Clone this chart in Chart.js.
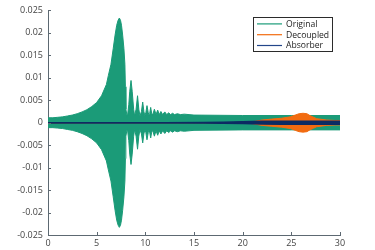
<!DOCTYPE html>
<html><head><meta charset="utf-8">
<script src="https://cdn.jsdelivr.net/npm/chart.js@4.4.1/dist/chart.umd.min.js"></script>
<style>html,body{margin:0;padding:0;background:#fff}canvas{display:block}</style>
</head><body><canvas id="c" width="375" height="250"></canvas>
<script>
const xTicks = [0, 5, 10, 15, 20, 25, 30];
const yTicks = [-0.025, -0.02, -0.015, -0.01, -0.005, 0, 0.005, 0.01, 0.015, 0.02, 0.025];
const seriesNames = ['Original', 'Decoupled', 'Absorber'];
const seriesColors = ['#1b9b78', '#f26b10', '#0c2b63'];

// Original: envelope of the dense oscillation
const origX = [0,0.5,1,1.5,2,2.5,3,3.5,4,4.5,5,5.5,6,6.2,6.47,6.7,6.89,7.06,7.2,7.33,7.45,7.55,7.67,7.8,7.9,7.95,8,8.15,8.3,8.4,8.53,8.65,8.8,8.9,9.05,9.2,9.33,9.45,9.6,9.73,9.85,9.95,10.05,10.17,10.3,10.38,10.45,10.55,10.65,10.75,10.93,11.1,11.27,11.43,11.6,11.78,12,12.2,12.4,12.6,12.8,13,13.3,13.6,14,15,20,25,30];
const origUpper = [0.0011,0.0011,0.0012,0.0013,0.0015,0.0017,0.002,0.0024,0.0029,0.0036,0.0045,0.006,0.0085,0.0105,0.013,0.0165,0.0195,0.0217,0.0228,0.0233,0.0228,0.0217,0.0195,0.0165,0.013,0.008,0.003,0.0012,0.004,0.007,0.0094,0.007,0.003,0.0015,0.003,0.006,0.003,0.0015,0.0025,0.0046,0.0025,0.0016,0.0022,0.0038,0.0022,0.0017,0.0021,0.0034,0.0021,0.0017,0.003,0.0018,0.0028,0.0018,0.0025,0.0018,0.0024,0.0018,0.0022,0.0018,0.0021,0.0018,0.002,0.0018,0.0019,0.0017,0.0016,0.0016,0.0016];
const origLower = [-0.0011,-0.0011,-0.0012,-0.0013,-0.0015,-0.0017,-0.002,-0.0024,-0.0029,-0.0036,-0.0045,-0.006,-0.0085,-0.0105,-0.013,-0.0165,-0.0195,-0.0217,-0.0228,-0.0233,-0.0228,-0.0217,-0.0195,-0.0165,-0.013,-0.008,-0.003,-0.0012,-0.004,-0.007,-0.0093,-0.007,-0.003,-0.0015,-0.003,-0.0059,-0.003,-0.0015,-0.0025,-0.0045,-0.0025,-0.0016,-0.0022,-0.0038,-0.0022,-0.0017,-0.0021,-0.0034,-0.0021,-0.0017,-0.003,-0.0018,-0.0028,-0.0018,-0.0025,-0.0018,-0.0024,-0.0018,-0.0022,-0.0018,-0.0021,-0.0018,-0.002,-0.0018,-0.0019,-0.0017,-0.0016,-0.0016,-0.0016];

// Decoupled
const decX = [0,19,21,22,23,24,24.9,25.4,25.8,26.2,26.6,26.9,27.3,27.6,28.6,29.5,30];
const decUpper = [0,0,0.0002,0.0006,0.0008,0.001,0.0013,0.0017,0.002,0.0021,0.002,0.0016,0.0012,0.0009,0.0006,0.0005,0.0005];
const decLower = [0,0,-0.0002,-0.0006,-0.0008,-0.001,-0.0013,-0.0017,-0.002,-0.0021,-0.002,-0.0016,-0.0012,-0.0009,-0.0006,-0.0005,-0.0005];

// Absorber
const absX = [0,12,16,18,20,22,24,26,30];
const absUpper = [0,0,0.00005,0.0001,0.0002,0.0003,0.00035,0.00035,0.00035];
const absLower = [0,0,-0.00005,-0.0001,-0.0002,-0.0003,-0.00035,-0.00035,-0.00035];

const pts = (xs, ys) => xs.map((x, i) => ({x: x, y: ys[i]}));
const axisColor = '#5d6972';
const FONT = '"Open Sans", "Noto Sans", sans-serif';

function band(label, xs, up, lo, color, order, idx, bw) {
  return [
    {label: label, data: pts(xs, up), borderColor: color, backgroundColor: color, borderWidth: bw,
     pointRadius: 0, tension: 0, fill: idx + 1, order: order},
    {label: label + '_lo', data: pts(xs, lo), borderColor: color, backgroundColor: color, borderWidth: bw,
     pointRadius: 0, tension: 0, fill: false, order: order}
  ];
}

const datasets = [].concat(
  band(seriesNames[0], origX, origUpper, origLower, seriesColors[0], 3, 0, 1),
  band(seriesNames[1], decX, decUpper, decLower, seriesColors[1], 2, 2, 1),
  band(seriesNames[2], absX, absUpper, absLower, seriesColors[2], 1, 4, 1.5)
);

const inwardTicks = {
  id: 'inwardTicks',
  afterDraw(chart) {
    const ctx = chart.ctx, a = chart.chartArea;
    const xs = chart.scales.x, ys = chart.scales.y;
    ctx.save();
    ctx.strokeStyle = axisColor; ctx.lineWidth = 1;
    ctx.beginPath();
    xs.ticks.forEach((t, i) => {
      const p = Math.round(xs.getPixelForTick(i)) + 0.5;
      ctx.moveTo(p, a.bottom); ctx.lineTo(p, a.bottom - 3);
    });
    ys.ticks.forEach((t, i) => {
      const p = Math.round(ys.getPixelForTick(i)) + 0.5;
      ctx.moveTo(a.left, p); ctx.lineTo(a.left + 3, p);
    });
    ctx.stroke();
    ctx.restore();
  }
};

const boxLegend = {
  id: 'boxLegend',
  afterDraw(chart) {
    const ctx = chart.ctx, a = chart.chartArea;
    ctx.save();
    ctx.font = '8.6px ' + FONT;
    const tw = Math.max(...seriesNames.map(n => ctx.measureText(n).width));
    const lineLen = 25, padL = 4, gap = 4, padR = 3, rowH = 10.8;
    const w = Math.round(padL + lineLen + gap + tw + padR);
    const h = 34;
    const right = a.right - 8, top = a.top + 7;
    const left = right - w;
    ctx.fillStyle = '#fff';
    ctx.fillRect(left, top, w, h);
    ctx.strokeStyle = '#2b2b2b'; ctx.lineWidth = 1;
    ctx.strokeRect(Math.round(left) + 0.5, Math.round(top) + 0.5, w, h);
    seriesNames.forEach((n, i) => {
      const y = top + 6.5 + i * rowH;
      ctx.strokeStyle = i === 2 ? '#23468a' : seriesColors[i]; ctx.lineWidth = 1.2;
      ctx.beginPath(); ctx.moveTo(left + padL, y); ctx.lineTo(left + padL + lineLen, y); ctx.stroke();
      ctx.fillStyle = '#222'; ctx.textBaseline = 'middle'; ctx.textAlign = 'left';
      ctx.fillText(n, left + padL + lineLen + gap, y + 0.5);
    });
    ctx.restore();
  }
};

new Chart(document.getElementById('c'), {
  type: 'line',
  data: {datasets: datasets},
  options: {
    responsive: false,
    animation: false,
    events: [],
    layout: {padding: {left: 0, right: 35, top: 5, bottom: 0}},
    plugins: {legend: {display: false}, tooltip: {enabled: false}},
    scales: {
      x: {
        type: 'linear', min: 0, max: 30,
        afterBuildTicks: s => { s.ticks = xTicks.map(v => ({value: v})); },
        afterFit: s => { s.height = 15; },
        grid: {display: false, drawTicks: false},
        border: {display: true, color: axisColor, width: 1},
        ticks: {color: '#444', font: {family: FONT, size: 9}, padding: 3, maxRotation: 0,
                callback: v => String(v)}
      },
      y: {
        type: 'linear', min: -0.025, max: 0.025,
        afterBuildTicks: s => { s.ticks = yTicks.map(v => ({value: v})); },
        afterFit: s => { s.width = 48; },
        grid: {display: false, drawTicks: false},
        border: {display: true, color: axisColor, width: 1},
        ticks: {color: '#444', font: {family: FONT, size: 9}, padding: 5,
                callback: v => String(Number(v.toFixed(3)))}
      }
    }
  },
  plugins: [inwardTicks, boxLegend]
});
</script>
</body></html>
